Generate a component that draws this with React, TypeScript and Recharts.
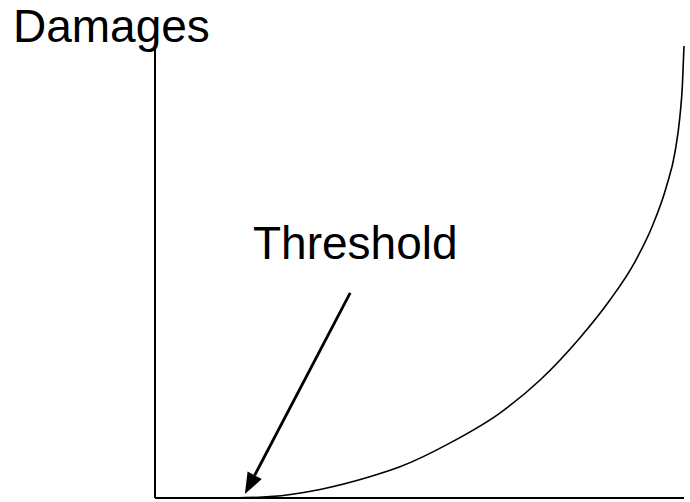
import React from 'react';
import { LineChart, Line, XAxis, YAxis, ReferenceLine, Customized } from 'recharts';

// Damage curve (x = activity level, y = damages)
const curveX = [14.7, 21.7, 31.2, 40.6, 46.3, 55.8, 65.2, 72.8, 80.3, 86.0, 90.7, 94.1, 96.6, 98.3, 99.2, 99.7, 100];
const curveY = [0, 0.3, 1.9, 4.7, 6.9, 12.2, 18.8, 26.1, 35.4, 43.8, 52.2, 60.4, 68.6, 76.5, 84.1, 91.4, 100];

// Arrow pointing at the threshold
const arrowStart = { x: 36.9, y: 45.4 };
const arrowEnd = { x: 17.0, y: 0.9 };

const yTitle = 'Damages';
const thresholdLabel = 'Threshold';

const data = curveX.map((x, i) => ({ x, y: curveY[i] }));

const ArrowShape = (p: any) => {
  const { x1, y1, x2, y2 } = p;
  if ([x1, y1, x2, y2].some((v) => typeof v !== 'number' || isNaN(v))) return null;
  let sx = x1, sy = y1, tx = x2, ty = y2;
  if (y1 > y2) { sx = x2; sy = y2; tx = x1; ty = y1; }
  const dx = tx - sx, dy = ty - sy;
  const len = Math.sqrt(dx * dx + dy * dy);
  const ux = dx / len, uy = dy / len;
  const headLen = 21, headHalf = 8;
  const bx = tx - ux * headLen, by = ty - uy * headLen;
  const px = -uy, py = ux;
  return (
    <g>
      <line x1={sx} y1={sy} x2={bx} y2={by} stroke="#000" strokeWidth={2.8} />
      <polygon
        points={`${tx},${ty} ${bx + px * headHalf},${by + py * headHalf} ${bx - px * headHalf},${by - py * headHalf}`}
        fill="#000"
      />
    </g>
  );
};

const Texts = () => (
  <g fontFamily="'Liberation Sans', Arial, sans-serif" fill="#000">
    <text x={13} y={42} fontSize={46}>{yTitle}</text>
    <text x={253} y={259} fontSize={46}>{thresholdLabel}</text>
  </g>
);

export default function App() {
  return (
    <div style={{ position: 'absolute', left: 0, top: 0, background: '#fff' }}>
      <LineChart
        width={690}
        height={502}
        data={data}
        margin={{ top: 46, right: 6, bottom: 3, left: 154 }}
      >
        <XAxis
          type="number"
          dataKey="x"
          domain={[0, 100]}
          tick={false}
          tickLine={false}
          height={1}
          axisLine={{ stroke: '#000', strokeWidth: 2 }}
        />
        <YAxis
          type="number"
          domain={[0, 100]}
          tick={false}
          tickLine={false}
          width={1}
          axisLine={{ stroke: '#000', strokeWidth: 2 }}
        />
        <Line
          type="monotone"
          dataKey="y"
          stroke="#000"
          strokeWidth={1.6}
          dot={false}
          isAnimationActive={false}
        />
        <ReferenceLine
          segment={[arrowStart, arrowEnd]}
          ifOverflow="visible"
          shape={ArrowShape}
        />
        <Customized component={Texts} />
      </LineChart>
    </div>
  );
}
